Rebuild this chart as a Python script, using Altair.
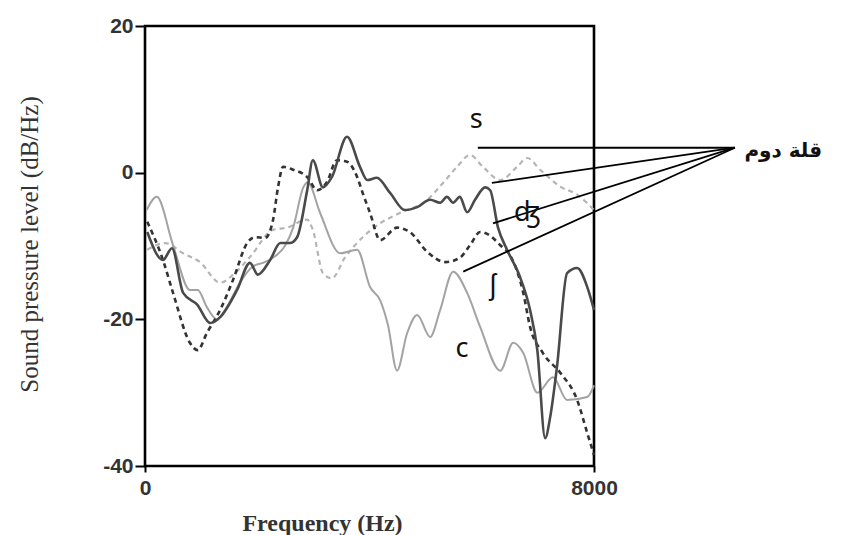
import altair as alt
import pandas as pd

# ---- series (frequency in Hz, level in dB/Hz) ----
freq_dark_solid = [40, 320, 480, 680, 930, 1160, 1340, 1640, 1870, 2010, 2230, 2410, 2580, 2710, 2890, 2990,
                   3170, 3330, 3600, 3830, 3960, 4130, 4370, 4630, 4850, 5080, 5260, 5380, 5490, 5610, 5740,
                   5880, 6060, 6150, 6290, 6450, 6680, 6860, 6990, 7130, 7220, 7340, 7520, 7700, 7880, 8000]
db_dark_solid = [-8.1, -11.9, -10.3, -16.4, -18.0, -20.5, -19.7, -16.0, -12.3, -13.9, -11.9, -9.6, -9.6, -8.8,
                 -2.4, 1.7, -2.0, -0.6, 4.9, 0.8, -1.0, -0.7, -2.8, -5.1, -4.7, -3.7, -4.1, -3.3, -4.1, -3.3,
                 -5.4, -3.7, -2.0, -2.4, -7.5, -10.5, -14.2, -18.7, -24.2, -36.2, -33.3, -26.5, -13.7, -13.0,
                 -15.6, -18.7]

freq_light_solid = [30, 210, 500, 800, 940, 1100, 1280, 1460, 1690, 1920, 2100, 2280, 2500, 2640, 2820, 2900,
                    3120, 3480, 3780, 4010, 4190, 4330, 4490, 4670, 4850, 5080, 5260, 5490, 5740, 5970, 6330,
                    6560, 6740, 6990, 7270, 7520, 7880, 8000]
db_light_solid = [-5.1, -3.3, -9.9, -16.0, -16.0, -18.3, -20.0, -18.3, -15.0, -12.8, -12.3, -11.6, -9.9, -7.5,
                  -2.0, -1.3, -5.5, -11.0, -10.5, -15.6, -17.4, -20.8, -27.0, -21.9, -19.4, -22.4, -18.7, -13.5,
                  -16.4, -21.0, -27.0, -23.2, -24.6, -30.0, -27.9, -31.0, -30.6, -29.0]

freq_dark_dashed = [40, 320, 500, 800, 940, 1100, 1340, 1570, 1820, 1960, 2140, 2280, 2370, 2460, 2640, 2890,
                    3070, 3240, 3420, 3600, 3780, 3880, 4010, 4190, 4490, 4720, 5030, 5350, 5610, 5790, 5970,
                    6150, 6330, 6500, 6740, 6860, 7090, 7400, 7700, 7880, 8000]
db_dark_dashed = [-6.7, -11.9, -16.4, -23.2, -24.2, -21.9, -18.7, -14.6, -9.6, -8.8, -8.9, -6.5, -2.0, 0.8, 0.4,
                  -0.6, -2.4, -1.3, 1.7, 1.5, -0.6, -2.8, -5.5, -9.2, -7.5, -8.1, -10.8, -12.2, -11.6, -9.9,
                  -8.1, -8.6, -9.9, -11.2, -16.4, -21.0, -24.6, -27.3, -31.0, -35.5, -38.5]

freq_light_dashed = [40, 360, 680, 980, 1340, 1600, 1870, 2280, 2530, 2890, 2990, 3170, 3330, 3560, 3880, 4190,
                     4540, 5030, 5310, 5560, 5790, 6020, 6330, 6630, 6810, 7040, 7400, 7700, 8000]
db_light_dashed = [-10.5, -9.6, -11.0, -12.2, -15.0, -13.7, -11.5, -7.8, -7.5, -6.4, -7.8, -13.7, -14.4, -11.6,
                   -8.8, -6.9, -5.5, -3.7, -1.4, 0.8, 2.4, 0.8, -1.0, 0.8, 2.0, 0.4, -1.9, -3.0, -5.1]

# ---- annotations ----
pointer_end_freq = [5930, 6180, 6200, 5670]
pointer_end_db = [3.4, -1.4, -6.9, -13.5]
pointer_apex_freq = 10510
pointer_apex_db = 3.4
label_texts = ["s", "ʤ", "ʃ", "c"]
label_freq = [5900, 6810, 6200, 5650]
label_db = [7.2, -5.5, -15.4, -24.0]
arabic_text = "قلة دوم"
arabic_freq = 10680
arabic_db = 3.0

y_ticks = [-40, -20, 0, 20]
x_ticks = [0, 8000]

x_scale = alt.Scale(domain=[0, 8000], nice=False, zero=False)
y_scale = alt.Scale(domain=[-40, 20], nice=False, zero=False)

x_axis = alt.Axis(values=x_ticks, title="Frequency (Hz)", grid=False, domain=False,
                  labelExpr="'' + datum.value",
                  labelFont="Liberation Sans", labelFontSize=21, labelFontWeight="bold", labelColor="#333",
                  labelFlush=False, labelPadding=5, tickSize=6, tickWidth=2, tickColor="black",
                  titleFont="Liberation Serif", titleFontSize=24, titleFontWeight="bold", titleColor="#333",
                  titleX=177, titleY=57, titleAlign="center", titleBaseline="middle")
y_axis = alt.Axis(values=y_ticks, title="Sound pressure level (dB/Hz)", grid=False, domain=False,
                  labelExpr="'' + datum.value",
                  labelFont="Liberation Sans", labelFontSize=21, labelFontWeight="bold", labelColor="#333",
                  labelPadding=2, tickSize=10, tickWidth=2, tickColor="black",
                  titleFont="Liberation Serif", titleFontSize=25, titleFontWeight="normal", titleColor="#333",
                  titleX=-116, titleY=218, titleAngle=270, titleAlign="center", titleBaseline="middle")

X = lambda f: alt.X(f, scale=x_scale, axis=x_axis)
Y = lambda f: alt.Y(f, scale=y_scale, axis=y_axis)


def series(freqs, dbs, color, width, dash=None):
    df = pd.DataFrame({"freq": freqs, "db": dbs})
    kw = dict(color=color, strokeWidth=width, interpolate="monotone")
    if dash:
        kw["strokeDash"] = dash
    return alt.Chart(df).mark_line(**kw).encode(x=X("freq:Q"), y=Y("db:Q"))


light_dashed = series(freq_light_dashed, db_light_dashed, "#b5b5b5", 2.2, [5, 4])
light_solid = series(freq_light_solid, db_light_solid, "#a3a3a3", 2.0)
dark_dashed = series(freq_dark_dashed, db_dark_dashed, "#333333", 2.6, [5, 4])
dark_solid = series(freq_dark_solid, db_dark_solid, "#4a4a4a", 2.6)

ptr_df = pd.DataFrame({
    "freq": [pointer_apex_freq] * len(pointer_end_freq),
    "db": [pointer_apex_db] * len(pointer_end_freq),
    "freq2": pointer_end_freq,
    "db2": pointer_end_db,
})
pointers = alt.Chart(ptr_df).mark_rule(color="black", strokeWidth=1.8).encode(
    x=X("freq:Q"), y=Y("db:Q"), x2="freq2:Q", y2="db2:Q",
)

lab_df = pd.DataFrame({"freq": label_freq, "db": label_db, "t": label_texts})
labels = alt.Chart(lab_df).mark_text(font="Noto Sans", fontSize=27, color="#111",
                                     align="center", baseline="middle").encode(
    x=X("freq:Q"), y=Y("db:Q"), text="t:N",
)

ar_df = pd.DataFrame({"freq": [arabic_freq], "db": [arabic_db], "t": [arabic_text]})
arabic = alt.Chart(ar_df).mark_text(font="DejaVu Sans", fontSize=20, fontWeight="bold", color="#111",
                                    align="left", baseline="middle").encode(
    x=X("freq:Q"), y=Y("db:Q"), text="t:N",
)

chart = alt.layer(light_dashed, light_solid, dark_dashed, dark_solid, pointers, labels, arabic).properties(
    width=449, height=440,
    autosize=alt.AutoSizeParams(type="none"),
    padding={"left": 145, "top": 26, "right": 265, "bottom": 69},
    background="white",
).configure_view(stroke="black", strokeWidth=2.6)

chart.save("out.html", embed_options={"renderer": "svg", "actions": False})
